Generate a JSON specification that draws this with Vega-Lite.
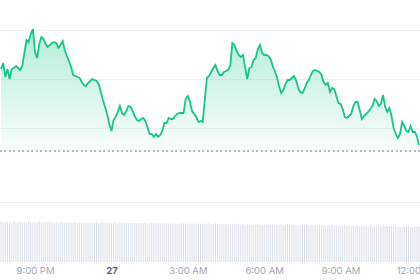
{
  "$schema": "https://vega.github.io/schema/vega-lite/v6.json",
  "width": 420,
  "height": 262,
  "autosize": {"type": "none"},
  "padding": {"left": 0, "right": 0, "top": 0, "bottom": 18},
  "background": "white",
  "config": {"view": {"stroke": null}, "font": "Inter"},
  "data": {"values": [
    {"t":"2024-01-26T19:40Z","p":193,"v":101},{"t":"2024-01-26T19:45Z","p":199,"v":99},{"t":"2024-01-26T19:50Z","p":185,"v":102},{"t":"2024-01-26T19:55Z","p":193,"v":100},
    {"t":"2024-01-26T20:00Z","p":183,"v":100},{"t":"2024-01-26T20:05Z","p":193,"v":98},{"t":"2024-01-26T20:10Z","p":194,"v":101},{"t":"2024-01-26T20:15Z","p":196,"v":99},{"t":"2024-01-26T20:20Z","p":194,"v":100},{"t":"2024-01-26T20:25Z","p":192,"v":102},{"t":"2024-01-26T20:30Z","p":196,"v":99},{"t":"2024-01-26T20:35Z","p":209,"v":100},{"t":"2024-01-26T20:40Z","p":222,"v":98},{"t":"2024-01-26T20:45Z","p":220,"v":101},{"t":"2024-01-26T20:50Z","p":228,"v":100},{"t":"2024-01-26T20:55Z","p":233,"v":99},
    {"t":"2024-01-26T21:00Z","p":210,"v":100},{"t":"2024-01-26T21:05Z","p":204,"v":99},{"t":"2024-01-26T21:10Z","p":218,"v":101},{"t":"2024-01-26T21:15Z","p":225,"v":98},{"t":"2024-01-26T21:20Z","p":223,"v":100},{"t":"2024-01-26T21:25Z","p":218,"v":99},{"t":"2024-01-26T21:30Z","p":215,"v":100},{"t":"2024-01-26T21:35Z","p":217,"v":101},{"t":"2024-01-26T21:40Z","p":219,"v":98},{"t":"2024-01-26T21:45Z","p":220,"v":99},{"t":"2024-01-26T21:50Z","p":219,"v":100},{"t":"2024-01-26T21:55Z","p":214,"v":98},
    {"t":"2024-01-26T22:00Z","p":217,"v":99},{"t":"2024-01-26T22:05Z","p":221,"v":100},{"t":"2024-01-26T22:10Z","p":212,"v":98},{"t":"2024-01-26T22:15Z","p":206,"v":99},{"t":"2024-01-26T22:20Z","p":201,"v":101},{"t":"2024-01-26T22:25Z","p":195,"v":98},{"t":"2024-01-26T22:30Z","p":187,"v":99},{"t":"2024-01-26T22:35Z","p":186,"v":100},{"t":"2024-01-26T22:40Z","p":185,"v":97},{"t":"2024-01-26T22:45Z","p":184,"v":99},{"t":"2024-01-26T22:50Z","p":180,"v":98},{"t":"2024-01-26T22:55Z","p":177,"v":99},
    {"t":"2024-01-26T23:00Z","p":176,"v":98},{"t":"2024-01-26T23:05Z","p":179,"v":99},{"t":"2024-01-26T23:10Z","p":181,"v":97},{"t":"2024-01-26T23:15Z","p":183,"v":99},{"t":"2024-01-26T23:20Z","p":182,"v":98},{"t":"2024-01-26T23:25Z","p":181,"v":100},{"t":"2024-01-26T23:30Z","p":178,"v":97},{"t":"2024-01-26T23:35Z","p":170,"v":98},{"t":"2024-01-26T23:40Z","p":162,"v":99},{"t":"2024-01-26T23:45Z","p":155,"v":97},{"t":"2024-01-26T23:50Z","p":148,"v":98},{"t":"2024-01-26T23:55Z","p":138,"v":99},
    {"t":"2024-01-27T00:00Z","p":131,"v":98},{"t":"2024-01-27T00:05Z","p":142,"v":97},{"t":"2024-01-27T00:10Z","p":145,"v":99},{"t":"2024-01-27T00:15Z","p":150,"v":96},{"t":"2024-01-27T00:20Z","p":156,"v":98},{"t":"2024-01-27T00:25Z","p":149,"v":97},{"t":"2024-01-27T00:30Z","p":147,"v":98},{"t":"2024-01-27T00:35Z","p":151,"v":99},{"t":"2024-01-27T00:40Z","p":156,"v":96},{"t":"2024-01-27T00:45Z","p":155,"v":98},{"t":"2024-01-27T00:50Z","p":151,"v":97},{"t":"2024-01-27T00:55Z","p":146,"v":98},
    {"t":"2024-01-27T01:00Z","p":142,"v":97},{"t":"2024-01-27T01:05Z","p":141,"v":98},{"t":"2024-01-27T01:10Z","p":143,"v":96},{"t":"2024-01-27T01:15Z","p":144,"v":97},{"t":"2024-01-27T01:20Z","p":141,"v":99},{"t":"2024-01-27T01:25Z","p":135,"v":96},{"t":"2024-01-27T01:30Z","p":128,"v":97},{"t":"2024-01-27T01:35Z","p":128,"v":98},{"t":"2024-01-27T01:40Z","p":125,"v":96},{"t":"2024-01-27T01:45Z","p":128,"v":97},{"t":"2024-01-27T01:50Z","p":125,"v":98},{"t":"2024-01-27T01:55Z","p":127,"v":96},
    {"t":"2024-01-27T02:00Z","p":131,"v":97},{"t":"2024-01-27T02:05Z","p":139,"v":96},{"t":"2024-01-27T02:10Z","p":139,"v":98},{"t":"2024-01-27T02:15Z","p":144,"v":95},{"t":"2024-01-27T02:20Z","p":143,"v":97},{"t":"2024-01-27T02:25Z","p":143,"v":96},{"t":"2024-01-27T02:30Z","p":146,"v":97},{"t":"2024-01-27T02:35Z","p":148,"v":95},{"t":"2024-01-27T02:40Z","p":149,"v":96},{"t":"2024-01-27T02:45Z","p":149,"v":98},{"t":"2024-01-27T02:50Z","p":149,"v":96},{"t":"2024-01-27T02:55Z","p":163,"v":97},
    {"t":"2024-01-27T03:00Z","p":166,"v":96},{"t":"2024-01-27T03:05Z","p":160,"v":95},{"t":"2024-01-27T03:10Z","p":151,"v":97},{"t":"2024-01-27T03:15Z","p":148,"v":96},{"t":"2024-01-27T03:20Z","p":145,"v":95},{"t":"2024-01-27T03:25Z","p":140,"v":97},{"t":"2024-01-27T03:30Z","p":141,"v":96},{"t":"2024-01-27T03:35Z","p":140,"v":94},{"t":"2024-01-27T03:40Z","p":162,"v":96},{"t":"2024-01-27T03:45Z","p":184,"v":95},{"t":"2024-01-27T03:50Z","p":186,"v":97},{"t":"2024-01-27T03:55Z","p":190,"v":95},
    {"t":"2024-01-27T04:00Z","p":194,"v":95},{"t":"2024-01-27T04:05Z","p":197,"v":96},{"t":"2024-01-27T04:10Z","p":191,"v":94},{"t":"2024-01-27T04:15Z","p":187,"v":96},{"t":"2024-01-27T04:20Z","p":187,"v":95},{"t":"2024-01-27T04:25Z","p":190,"v":94},{"t":"2024-01-27T04:30Z","p":191,"v":96},{"t":"2024-01-27T04:35Z","p":192,"v":95},{"t":"2024-01-27T04:40Z","p":196,"v":94},{"t":"2024-01-27T04:45Z","p":219,"v":95},{"t":"2024-01-27T04:50Z","p":217,"v":96},{"t":"2024-01-27T04:55Z","p":211,"v":94},
    {"t":"2024-01-27T05:00Z","p":207,"v":95},{"t":"2024-01-27T05:05Z","p":205,"v":94},{"t":"2024-01-27T05:10Z","p":207,"v":96},{"t":"2024-01-27T05:15Z","p":195,"v":93},{"t":"2024-01-27T05:20Z","p":183,"v":95},{"t":"2024-01-27T05:25Z","p":194,"v":94},{"t":"2024-01-27T05:30Z","p":195,"v":95},{"t":"2024-01-27T05:35Z","p":202,"v":93},{"t":"2024-01-27T05:40Z","p":204,"v":94},{"t":"2024-01-27T05:45Z","p":213,"v":96},{"t":"2024-01-27T05:50Z","p":217,"v":94},{"t":"2024-01-27T05:55Z","p":209,"v":93},
    {"t":"2024-01-27T06:00Z","p":207,"v":94},{"t":"2024-01-27T06:05Z","p":207,"v":93},{"t":"2024-01-27T06:10Z","p":206,"v":95},{"t":"2024-01-27T06:15Z","p":203,"v":93},{"t":"2024-01-27T06:20Z","p":196,"v":94},{"t":"2024-01-27T06:25Z","p":191,"v":92},{"t":"2024-01-27T06:30Z","p":185,"v":94},{"t":"2024-01-27T06:35Z","p":176,"v":93},{"t":"2024-01-27T06:40Z","p":169,"v":95},{"t":"2024-01-27T06:45Z","p":172,"v":92},{"t":"2024-01-27T06:50Z","p":178,"v":93},{"t":"2024-01-27T06:55Z","p":182,"v":94},
    {"t":"2024-01-27T07:00Z","p":182,"v":93},{"t":"2024-01-27T07:05Z","p":184,"v":92},{"t":"2024-01-27T07:10Z","p":186,"v":94},{"t":"2024-01-27T07:15Z","p":182,"v":92},{"t":"2024-01-27T07:20Z","p":174,"v":93},{"t":"2024-01-27T07:25Z","p":170,"v":91},{"t":"2024-01-27T07:30Z","p":169,"v":93},{"t":"2024-01-27T07:35Z","p":173,"v":92},{"t":"2024-01-27T07:40Z","p":179,"v":94},{"t":"2024-01-27T07:45Z","p":182,"v":91},{"t":"2024-01-27T07:50Z","p":187,"v":92},{"t":"2024-01-27T07:55Z","p":191,"v":93},
    {"t":"2024-01-27T08:00Z","p":192,"v":92},{"t":"2024-01-27T08:05Z","p":191,"v":91},{"t":"2024-01-27T08:10Z","p":190,"v":93},{"t":"2024-01-27T08:15Z","p":187,"v":91},{"t":"2024-01-27T08:20Z","p":180,"v":92},{"t":"2024-01-27T08:25Z","p":177,"v":90},{"t":"2024-01-27T08:30Z","p":179,"v":92},{"t":"2024-01-27T08:35Z","p":170,"v":91},{"t":"2024-01-27T08:40Z","p":174,"v":93},{"t":"2024-01-27T08:45Z","p":173,"v":90},{"t":"2024-01-27T08:50Z","p":166,"v":91},{"t":"2024-01-27T08:55Z","p":159,"v":92},
    {"t":"2024-01-27T09:00Z","p":158,"v":91},{"t":"2024-01-27T09:05Z","p":153,"v":90},{"t":"2024-01-27T09:10Z","p":145,"v":92},{"t":"2024-01-27T09:15Z","p":144,"v":90},{"t":"2024-01-27T09:20Z","p":146,"v":91},{"t":"2024-01-27T09:25Z","p":148,"v":89},{"t":"2024-01-27T09:30Z","p":156,"v":91},{"t":"2024-01-27T09:35Z","p":160,"v":90},{"t":"2024-01-27T09:40Z","p":160,"v":92},{"t":"2024-01-27T09:45Z","p":152,"v":89},{"t":"2024-01-27T09:50Z","p":143,"v":90},{"t":"2024-01-27T09:55Z","p":146,"v":91},
    {"t":"2024-01-27T10:00Z","p":148,"v":90},{"t":"2024-01-27T10:05Z","p":150,"v":89},{"t":"2024-01-27T10:10Z","p":153,"v":91},{"t":"2024-01-27T10:15Z","p":156,"v":89},{"t":"2024-01-27T10:20Z","p":163,"v":90},{"t":"2024-01-27T10:25Z","p":161,"v":88},{"t":"2024-01-27T10:30Z","p":156,"v":90},{"t":"2024-01-27T10:35Z","p":158,"v":89},{"t":"2024-01-27T10:40Z","p":167,"v":91},{"t":"2024-01-27T10:45Z","p":155,"v":88},{"t":"2024-01-27T10:50Z","p":150,"v":89},{"t":"2024-01-27T10:55Z","p":154,"v":90},
    {"t":"2024-01-27T11:00Z","p":146,"v":89},{"t":"2024-01-27T11:05Z","p":134,"v":88},{"t":"2024-01-27T11:10Z","p":128,"v":90},{"t":"2024-01-27T11:15Z","p":124,"v":88},{"t":"2024-01-27T11:20Z","p":128,"v":89},{"t":"2024-01-27T11:25Z","p":140,"v":87},{"t":"2024-01-27T11:30Z","p":136,"v":89},{"t":"2024-01-27T11:35Z","p":131,"v":88},{"t":"2024-01-27T11:40Z","p":130,"v":90},{"t":"2024-01-27T11:45Z","p":136,"v":87},{"t":"2024-01-27T11:50Z","p":130,"v":88},{"t":"2024-01-27T11:55Z","p":130,"v":89},
    {"t":"2024-01-27T12:00Z","p":125,"v":88},{"t":"2024-01-27T12:05Z","p":117,"v":89}
  ]},
  "layer": [
    {
      "mark": {"type": "bar", "size": 1.2, "color": "#dfe3ec"},
      "encoding": {
        "x": {
          "field": "t", "type": "temporal",
          "scale": {"type": "utc", "padding": 0, "domain": [
            {"year": 2024, "month": 1, "date": 26, "hours": 19, "minutes": 37, "seconds": 30, "utc": true},
            {"year": 2024, "month": 1, "date": 27, "hours": 12, "minutes": 7, "seconds": 6, "utc": true}
          ]},
          "axis": {
            "title": null, "grid": false, "domain": false, "ticks": false,
            "labelPadding": 3, "labelFontSize": 9.5, "labelFont": "Inter",
            "labelOverlap": false, "labelFlush": false,
            "values": [
              {"year": 2024, "month": 1, "date": 26, "hours": 21, "utc": true},
              {"year": 2024, "month": 1, "date": 27, "hours": 0, "utc": true},
              {"year": 2024, "month": 1, "date": 27, "hours": 3, "utc": true},
              {"year": 2024, "month": 1, "date": 27, "hours": 6, "utc": true},
              {"year": 2024, "month": 1, "date": 27, "hours": 9, "utc": true},
              {"year": 2024, "month": 1, "date": 27, "hours": 12, "utc": true}
            ],
            "labelExpr": "utchours(datum.value) == 0 ? utcFormat(datum.value, '%-d') : utcFormat(datum.value, '%-I:%M %p')",
            "labelFontWeight": {"condition": {"test": "utchours(datum.value) == 0", "value": "bold"}, "value": "normal"},
            "labelColor": {"condition": {"test": "utchours(datum.value) == 0", "value": "#58667e"}, "value": "#a1a7b3"}
          }
        },
        "y": {"field": "v", "type": "quantitative", "scale": {"domain": [0, 655], "nice": false}, "axis": null}
      }
    },
    {
      "layer": [
        {
          "mark": {"type": "area", "opacity": 1, "line": false, "color": {"gradient": "linear", "x1": 0, "y1": 0, "x2": 0, "y2": 1, "stops": [
            {"offset": 0, "color": "rgba(22,199,132,0.32)"},
            {"offset": 1, "color": "rgba(22,199,132,0.02)"}
          ]}},
          "encoding": {
            "x": {"field": "t", "type": "temporal"},
            "y": {"field": "p", "type": "quantitative", "scale": {"domain": [0, 262], "nice": false, "zero": false},
              "axis": {"title": null, "labels": false, "ticks": false, "domain": false, "grid": true, "gridColor": "#eff1f4", "gridWidth": 1,
                "values": [60, 85, 134, 158, 183, 207, 232, 257]}},
            "y2": {"datum": 111}
          }
        },
        {
          "mark": {"type": "rule", "strokeDash": [1.5, 3], "color": "#b4b9c4", "strokeWidth": 1},
          "encoding": {"y": {"datum": 111}}
        },
        {
          "mark": {"type": "line", "color": "#16c784", "strokeWidth": 1.8},
          "encoding": {
            "x": {"field": "t", "type": "temporal"},
            "y": {"field": "p", "type": "quantitative"}
          }
        }
      ]
    }
  ],
  "resolve": {"scale": {"y": "independent"}}
}
